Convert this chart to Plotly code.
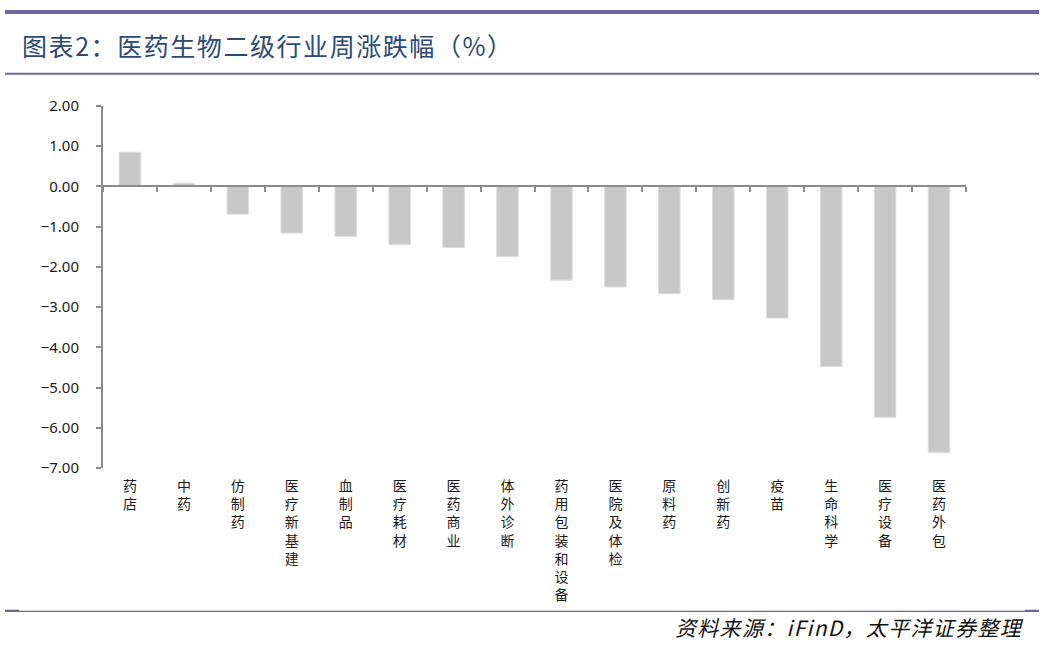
import plotly.graph_objects as go

categories = ["药店", "中药", "仿制药", "医疗新基建", "血制品", "医疗耗材", "医药商业", "体外诊断",
              "药用包装和设备", "医院及体检", "原料药", "创新药", "疫苗", "生命科学", "医疗设备", "医药外包"]
values = [0.85, 0.08, -0.69, -1.16, -1.24, -1.45, -1.52, -1.74,
          -2.33, -2.50, -2.67, -2.82, -3.27, -4.48, -5.74, -6.62]
y_ticks = [2, 1, 0, -1, -2, -3, -4, -5, -6, -7]
title_text = "图表2：医药生物二级行业周涨跌幅（%）"
source_text = "资料来源：iFinD，太平洋证券整理"

W, H = 1053, 648
L, R, T, B = 103, 87, 106, 180
PW, PH = W - L - R, H - T - B

def px2x(px):
    return (px - L) / PW

def py2y(py):
    return (H - B - py) / PH

def spaced(s):
    return "\u200a".join(list(s))

idx = list(range(len(categories)))
labels = ["<br>".join(list(c)) for c in categories]
boundaries = [i - 0.5 for i in range(len(categories) + 1)]

fig = go.Figure()
fig.add_trace(go.Bar(x=idx, y=values, width=0.4,
                     marker=dict(color="#c8c8c8", line=dict(color="#dedede", width=1)),
                     hoverinfo="skip", showlegend=False))
fig.add_trace(go.Scatter(x=[boundaries[0], boundaries[-1]], y=[0, 0], xaxis="x2", yaxis="y",
                         mode="markers", marker=dict(opacity=0), hoverinfo="skip", showlegend=False))

line_col = "#68689a"
shapes = [
    dict(type="rect", xref="paper", yref="paper", x0=px2x(5), x1=px2x(1039), y0=py2y(14), y1=py2y(10),
         fillcolor=line_col, line=dict(width=0), layer="above"),
    dict(type="rect", xref="paper", yref="paper", x0=px2x(5), x1=px2x(1039), y0=py2y(74.7), y1=py2y(72.7),
         fillcolor=line_col, line=dict(width=0), layer="above"),
    dict(type="rect", xref="paper", yref="paper", x0=px2x(5), x1=px2x(1039), y0=py2y(612), y1=py2y(610.8),
         fillcolor=line_col, line=dict(width=0), layer="above"),
    dict(type="rect", xref="paper", yref="paper", x0=px2x(5), x1=px2x(19), y0=py2y(612), y1=py2y(609.7),
         fillcolor=line_col, line=dict(width=0), layer="above"),
    dict(type="rect", xref="paper", yref="paper", x0=px2x(1025), x1=px2x(1039), y0=py2y(612), y1=py2y(609.7),
         fillcolor=line_col, line=dict(width=0), layer="above"),
]

annotations = [
    dict(text=spaced(title_text), xref="paper", yref="paper",
         x=px2x(20), y=py2y(45), xanchor="left", yanchor="middle", showarrow=False,
         font=dict(family="Noto Sans CJK SC", size=25, color="#2b4a78")),
    dict(text="<i>" + spaced(source_text) + "</i>", xref="paper", yref="paper",
         x=px2x(1026), y=py2y(627), xanchor="right", yanchor="middle", showarrow=False,
         font=dict(family="Noto Sans CJK SC", size=21, color="#111111")),
]

axis_col = "#8c8c8c"
fig.update_layout(
    width=W, height=H,
    margin=dict(l=L, r=R, t=T, b=B, pad=0),
    paper_bgcolor="white", plot_bgcolor="white",
    showlegend=False,
    shapes=shapes, annotations=annotations,
    xaxis=dict(range=[boundaries[0], boundaries[-1]], tickmode="array", tickvals=idx, ticktext=labels,
               showgrid=False, zeroline=False, showline=False, ticks="",
               ticklabelstandoff=8,
               tickfont=dict(family="Noto Sans CJK SC", size=14, color="#1a1a1a"),
               tickangle=0),
    xaxis2=dict(range=[boundaries[0], boundaries[-1]], overlaying="x", anchor="free", position=7 / 9,
                side="bottom", tickmode="array", tickvals=boundaries, showticklabels=False,
                showgrid=False, zeroline=False, showline=True, linecolor=axis_col, linewidth=2,
                ticks="outside", ticklen=5, tickwidth=1.5, tickcolor=axis_col),
    yaxis=dict(range=[-7, 2], tickmode="array", tickvals=y_ticks, tickformat=".2f",
               showgrid=False, zeroline=False, showline=True, linecolor=axis_col, linewidth=2,
               ticks="outside", ticklen=5, tickwidth=1.5, tickcolor=axis_col,
               ticklabelstandoff=14,
               tickfont=dict(family="Noto Sans", size=15, color="#1a1a1a"),
               domain=[0, 1]),
    bargap=0.6,
)

fig.write_html("out.html", config={"displayModeBar": False},
               post_script="document.body.style.margin='0';")
